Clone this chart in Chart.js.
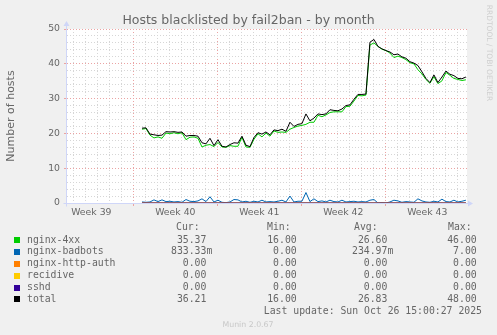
<!DOCTYPE html>
<html>
<head>
<meta charset="utf-8">
<script src="https://cdn.jsdelivr.net/npm/chart.js@4/dist/chart.umd.min.js"></script>
<style>
  html, body { margin: 0; padding: 0; background: #f0f0f0; }
</style>
</head>
<body>
<canvas id="fail2ban-chart" width="497" height="335"></canvas>
<script>
// samples every 8 hours, x in days from the first minor grid line
const startDay = 5.72;
const stepDay = 1 / 3;

const total = [
  21.5, 21.6, 19.8, 19.6, 19.4, 19.5, 20.5, 20.4, 20.5, 20.3,
  20.4, 19.2, 19.4, 19.4, 19.2, 17.3, 17.0, 18.6, 16.5, 18.2,
  16.3, 16.1, 16.8, 17.3, 17.2, 19.2, 16.6, 16.2, 18.8, 20.2,
  19.8, 20.4, 19.6, 21.0, 20.8, 21.2, 20.6, 23.2, 22.0, 22.6,
  22.8, 25.6, 23.6, 24.4, 25.6, 25.4, 25.6, 26.8, 26.6, 26.5,
  27.0, 28.0, 28.2, 29.8, 31.2, 31.2, 31.3, 46.2, 47.0, 45.0,
  44.3, 43.8, 43.4, 42.6, 42.8, 42.0, 41.6, 40.6, 40.2, 39.5,
  37.7, 35.8, 34.6, 36.8, 34.6, 36.2, 37.9, 37.0, 36.6, 35.8,
  35.7, 36.2
];

const nginx4xx = [
  21.2, 21.4, 19.5, 18.7, 19.0, 18.6, 20.1, 19.9, 20.2, 19.9,
  20.2, 18.2, 18.9, 19.0, 18.6, 16.1, 16.6, 16.8, 16.2, 17.4,
  16.1, 16.0, 16.5, 16.3, 16.3, 18.9, 16.1, 16.0, 18.3, 19.9,
  19.0, 20.1, 19.2, 20.7, 20.3, 20.4, 20.3, 21.2, 21.7, 22.1,
  22.3, 22.6, 23.2, 23.2, 25.2, 24.8, 25.3, 26.0, 26.2, 26.2,
  26.2, 27.7, 27.8, 29.3, 30.9, 30.8, 31.0, 45.4, 46.0, 45.0,
  44.2, 43.8, 43.1, 41.8, 42.2, 41.8, 41.2, 40.3, 40.0, 38.3,
  37.1, 35.5, 34.4, 36.3, 34.3, 35.1, 37.5, 36.7, 35.8, 35.5,
  35.2, 35.4
];

const badbots = [
  0.3, 0.2, 0.3, 0.9, 0.4, 0.9, 0.4, 0.5, 0.3, 0.4,
  0.2, 1.0, 0.5, 0.4, 0.6, 1.2, 0.4, 1.8, 0.3, 0.8,
  0.2, 0.1, 0.3, 1.0, 0.9, 0.3, 0.5, 0.2, 0.5, 0.3,
  0.8, 0.3, 0.4, 0.3, 0.5, 0.8, 0.3, 2.0, 0.3, 0.5,
  0.5, 3.0, 0.4, 1.2, 0.4, 0.6, 0.3, 0.8, 0.4, 0.3,
  0.8, 0.3, 0.4, 0.5, 0.3, 0.4, 0.3, 0.8, 1.0, 0.0,
  0.1, 0.0, 0.3, 0.8, 0.6, 0.2, 0.4, 0.3, 0.2, 1.2,
  0.6, 0.3, 0.2, 0.5, 0.3, 1.1, 0.4, 0.3, 0.8, 0.3,
  0.5, 0.8
];

// the three idle jails stay at zero over the whole period
const flatDays = [5.72, 32.72];
const httpAuth = [0, 0];
const recidive = [0, 0];
const sshd = [0, 0];

const weekStarts = [-2, 5, 12, 19, 26];
const weekLabels = ['Week 39', 'Week 40', 'Week 41', 'Week 42', 'Week 43'];

const seriesNames = ['nginx-4xx', 'nginx-badbots', 'nginx-http-auth', 'recidive', 'sshd', 'total'];
const seriesColors = ['#00CC00', '#0066B3', '#FF8000', '#FFCC00', '#330099', '#000000'];
const curValues = ['35.37 ', '833.33m', '0.00 ', '0.00 ', '0.00 ', '36.21 '];
const minValues = ['16.00 ', '0.00 ', '0.00 ', '0.00 ', '0.00 ', '16.00 '];
const avgValues = ['26.60 ', '234.97m', '0.00 ', '0.00 ', '0.00 ', '26.83 '];
const maxValues = ['46.00 ', '7.00 ', '0.00 ', '0.00 ', '0.00 ', '48.00 '];

function sampled(values) {
  return values.map((v, i) => ({ x: startDay + i * stepDay, y: v }));
}
function flat(values) {
  return values.map((v, i) => ({ x: flatDays[i], y: v }));
}

const MAJOR = '#EBA3A3';
const MINOR = '#D6D6D6';
const AXIS = '#CFD6F8';
const FONT = '#666666';
const MONO = '9.8px "DejaVu Sans Mono"';

const muninFrame = {
  id: 'muninFrame',
  beforeDraw(chart) {
    const { ctx, chartArea: a } = chart;
    ctx.save();
    ctx.fillStyle = '#F0F0F0';
    ctx.fillRect(0, 0, chart.width, chart.height);
    ctx.fillStyle = '#FFFFFF';
    ctx.fillRect(a.left, a.top, a.right - a.left, a.bottom - a.top);
    ctx.restore();
  },
  beforeDatasetsDraw(chart) {
    const { ctx, chartArea: a } = chart;
    const ax = a.left - 0.5, ay = a.bottom + 0.5;
    ctx.save();
    ctx.strokeStyle = AXIS;
    ctx.fillStyle = AXIS;
    ctx.lineWidth = 1;
    ctx.beginPath();
    ctx.moveTo(ax, ay + 3);
    ctx.lineTo(ax, a.top - 3);
    ctx.moveTo(ax - 3, ay);
    ctx.lineTo(a.right + 1, ay);
    ctx.stroke();
    // arrow heads
    ctx.beginPath();
    ctx.moveTo(ax, a.top - 8);
    ctx.lineTo(ax - 3, a.top - 3);
    ctx.lineTo(ax + 3, a.top - 3);
    ctx.closePath();
    ctx.fill();
    ctx.beginPath();
    ctx.moveTo(a.right + 6, ay);
    ctx.lineTo(a.right + 1, ay - 3);
    ctx.lineTo(a.right + 1, ay + 3);
    ctx.closePath();
    ctx.fill();
    ctx.restore();
  },
  afterDraw(chart) {
    const { ctx } = chart;
    ctx.save();
    ctx.fillStyle = FONT;

    ctx.font = '12.5px "DejaVu Sans"';
    ctx.textAlign = 'center';
    ctx.textBaseline = 'alphabetic';
    ctx.fillText('Hosts blacklisted by fail2ban - by month', 248.5, 24);

    ctx.save();
    ctx.translate(11, 116);
    ctx.rotate(-Math.PI / 2);
    ctx.font = '11px "DejaVu Sans"';
    ctx.textBaseline = 'middle';
    ctx.fillText('Number of hosts', 0, 0);
    ctx.restore();

    ctx.save();
    ctx.translate(489, 53);
    ctx.rotate(Math.PI / 2);
    ctx.font = '7.5px "DejaVu Sans"';
    ctx.fillStyle = '#CFCFCF';
    ctx.textBaseline = 'middle';
    ctx.fillText('RRDTOOL / TOBI OETIKER', 0, 0);
    ctx.restore();

    // legend table
    ctx.font = MONO;
    ctx.textBaseline = 'middle';
    ctx.textAlign = 'left';
    ctx.fillText('Cur:', 176, 227);
    ctx.fillText('Min:', 267, 227);
    ctx.fillText('Avg:', 354, 227);
    ctx.fillText('Max:', 448, 227);
    const rowY = [240, 251.8, 263.7, 275.6, 287.5, 299.3];
    seriesNames.forEach((name, i) => {
      const y = rowY[i];
      ctx.fillStyle = seriesColors[i];
      ctx.fillRect(14, Math.round(y) - 3, 6, 6);
      ctx.fillStyle = FONT;
      ctx.textAlign = 'left';
      ctx.fillText(name, 27, y);
      ctx.textAlign = 'right';
      ctx.fillText(curValues[i], 212.3, y);
      ctx.fillText(minValues[i], 302.6, y);
      ctx.fillText(avgValues[i], 393.3, y);
      ctx.fillText(maxValues[i], 482.6, y);
    });
    ctx.textAlign = 'right';
    ctx.fillText('Last update: Sun Oct 26 15:00:27 2025', 482, 311.7);

    ctx.font = '7.8px "DejaVu Sans"';
    ctx.fillStyle = '#C8C8C8';
    ctx.textAlign = 'center';
    ctx.fillText('Munin 2.0.67', 248, 325);
    ctx.restore();
  }
};

function isWeekLabel(v) {
  return weekStarts.some(s => s + 3.5 === v);
}
function isMajorDay(v) {
  return weekStarts.includes(v);
}

const ctx = document.getElementById('fail2ban-chart').getContext('2d');
new Chart(ctx, {
  type: 'line',
  data: {
    datasets: [
      { label: seriesNames[0], data: sampled(nginx4xx), borderColor: seriesColors[0], order: 5 },
      { label: seriesNames[1], data: sampled(badbots), borderColor: seriesColors[1], order: 4 },
      { label: seriesNames[2], data: flat(httpAuth), borderColor: seriesColors[2], order: 3 },
      { label: seriesNames[3], data: flat(recidive), borderColor: seriesColors[3], order: 2 },
      { label: seriesNames[4], data: flat(sshd), borderColor: seriesColors[4], order: 1 },
      { label: seriesNames[5], data: sampled(total), borderColor: seriesColors[5], order: 0 }
    ]
  },
  options: {
    responsive: false,
    animation: false,
    events: [],
    datasets: {
      line: { borderWidth: 1, pointRadius: 0, tension: 0, fill: false }
    },
    layout: { padding: { left: 0, right: 30, top: 29, bottom: 0 } },
    plugins: {
      legend: { display: false },
      title: { display: false },
      tooltip: { enabled: false }
    },
    scales: {
      x: {
        type: 'linear',
        min: -0.53,
        max: 32.81,
        afterBuildTicks: scale => {
          const ticks = [];
          for (let d = 0; d <= 32; d++) ticks.push(d);
          weekStarts.forEach(s => ticks.push(s + 3.5));
          scale.ticks = ticks.sort((a, b) => a - b).map(v => ({ value: v }));
        },
        afterFit: scale => { scale.height = 132; },
        grid: {
          color: c => isWeekLabel(c.tick.value) ? 'rgba(0,0,0,0)' : (isMajorDay(c.tick.value) ? MAJOR : MINOR),
          tickColor: c => isMajorDay(c.tick.value) ? MAJOR : 'rgba(0,0,0,0)',
          tickLength: 3,
          lineWidth: 1
        },
        border: { display: false, dash: [1, 2] },
        ticks: {
          autoSkip: false,
          maxRotation: 0,
          padding: 1,
          color: FONT,
          font: { family: 'DejaVu Sans', size: 9.3 },
          callback: v => {
            const i = weekStarts.findIndex(s => s + 3.5 === v);
            return i >= 0 ? weekLabels[i] : '';
          }
        }
      },
      y: {
        min: 0,
        max: 50,
        afterFit: scale => { scale.width = 67; },
        grid: {
          color: c => c.tick.value % 10 === 0 ? MAJOR : MINOR,
          tickColor: c => c.tick.value % 10 === 0 ? MAJOR : 'rgba(0,0,0,0)',
          tickLength: 3,
          lineWidth: 1
        },
        border: { display: false, dash: [1, 2] },
        ticks: {
          stepSize: 2,
          autoSkip: false,
          padding: 4,
          color: FONT,
          font: { family: 'DejaVu Sans', size: 9.3 },
          callback: v => v % 10 === 0 ? String(v) : ''
        }
      }
    }
  },
  plugins: [muninFrame]
});
</script>
</body>
</html>
